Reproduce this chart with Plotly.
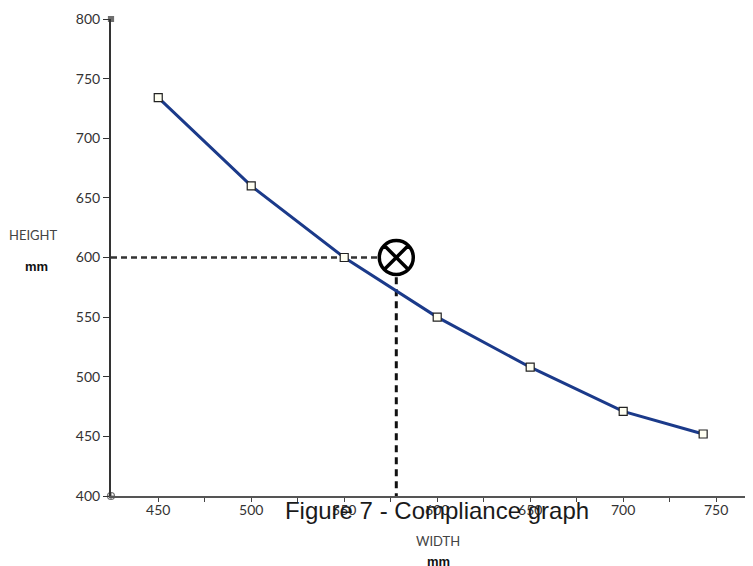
import plotly.graph_objects as go

# Data
width_mm = [450, 500, 550, 600, 650, 700, 743]
height_mm = [734, 660, 600, 550, 508, 471, 452]

check_x = [578]
check_y = [600]

x_ticks = [450, 500, 550, 600, 650, 700, 750]
y_ticks = [400, 450, 500, 550, 600, 650, 700, 750, 800]

x_range = [424.6, 769.8]
y_range = [400, 800]

OFF = 8  # page offset of the figure (body margin)
W, H = 753 - OFF, 566 - OFF
ML, MR, MT, MB = 111 - OFF, 0, 19 - OFF, 70
PW, PH = W - ML - MR, H - MT - MB


def px_to_paper(px, py):
    # px, py are page pixels from the reference
    fx, fy = px - OFF, py - OFF
    return (fx - ML) / PW, (H - MB - fy) / PH


fig = go.Figure()

# horizontal dashed guide at height 600
fig.add_trace(go.Scatter(
    x=[x_range[0], 568], y=[check_y[0], check_y[0]], mode="lines",
    line=dict(color="#333333", width=2.5, dash="6px,4px"),
    hoverinfo="skip", showlegend=False, cliponaxis=False))

# vertical dashed guide at the check width
fig.add_trace(go.Scatter(
    x=[check_x[0], check_x[0]], y=[583.5, y_range[0]], mode="lines",
    line=dict(color="#111111", width=3, dash="7px,5px"),
    hoverinfo="skip", showlegend=False, cliponaxis=False))

# compliance curve
fig.add_trace(go.Scatter(
    x=width_mm, y=height_mm, mode="lines+markers",
    line=dict(color="#1B3A8A", width=3),
    marker=dict(symbol="square", size=8, color="#FFFFF2",
                line=dict(color="#222222", width=1.2)),
    showlegend=False))

# check point marker
fig.add_trace(go.Scatter(
    x=check_x, y=check_y, mode="markers",
    marker=dict(symbol="circle-x-open", size=34, color="#000000",
                line=dict(color="#000000", width=3.5)),
    showlegend=False, cliponaxis=False))

# axis end marks
fig.add_trace(go.Scatter(
    x=[x_range[0], x_range[0]], y=[y_range[1], y_range[0]], mode="markers",
    marker=dict(symbol=["square", "circle-cross-open"], size=[5, 7],
                color="#333333", line=dict(color="#333333", width=1.2)),
    hoverinfo="skip", showlegend=False, cliponaxis=False))

tick_font = dict(family="Lato, 'Open Sans', sans-serif", size=14, color="#333333")

fig.update_xaxes(
    range=x_range, tickvals=x_ticks, ticktext=[str(v) for v in x_ticks],
    showgrid=False, zeroline=False, showline=True, linecolor="#555555",
    linewidth=1.5, ticks="outside", ticklen=4, tickwidth=1.2,
    tickcolor="#444444", tickfont=tick_font, ticklabelstandoff=-4,
    minor=dict(tickvals=[475, 525, 575, 625, 675, 725], ticks="outside",
               ticklen=4, tickwidth=1.2, tickcolor="#444444"))

fig.update_yaxes(
    range=y_range, tickvals=y_ticks, ticktext=[str(v) for v in y_ticks],
    showgrid=False, zeroline=False, showline=True, linecolor="#333333",
    linewidth=2, ticks="outside", ticklen=6, tickwidth=1.3,
    tickcolor="#333333", tickfont=tick_font)

ann = []
for text, px, py, fnt in [
    ("WIDTH", 438, 541, dict(family="Lato, sans-serif", size=13, color="#444444")),
    ("<b>mm</b>", 438, 561, dict(family="Arial, 'Liberation Sans', sans-serif", size=13, color="#111111")),
    ("HEIGHT", 33, 235, dict(family="Lato, sans-serif", size=13, color="#444444")),
    ("<b>mm</b>", 36.5, 266.5, dict(family="Arial, 'Liberation Sans', sans-serif", size=13, color="#111111")),
]:
    ax, ay = px_to_paper(px, py)
    ann.append(dict(text=text, x=ax, y=ay, xref="paper", yref="paper",
                    xanchor="center", yanchor="middle", showarrow=False,
                    font=fnt))

fig.update_layout(
    width=W, height=H,
    margin=dict(l=ML, r=MR, t=MT, b=MB),
    paper_bgcolor="white", plot_bgcolor="white",
    title=dict(text="Figure 7 - Compliance graph",
               x=(437 - OFF) / W, y=1 - (511 - OFF) / H,
               xref="container", yref="container",
               xanchor="center", yanchor="middle",
               font=dict(family="Arial, 'Liberation Sans', sans-serif",
                         size=24, color="#1a1a1a")),
    annotations=ann,
)

fig.write_html("out.html")
